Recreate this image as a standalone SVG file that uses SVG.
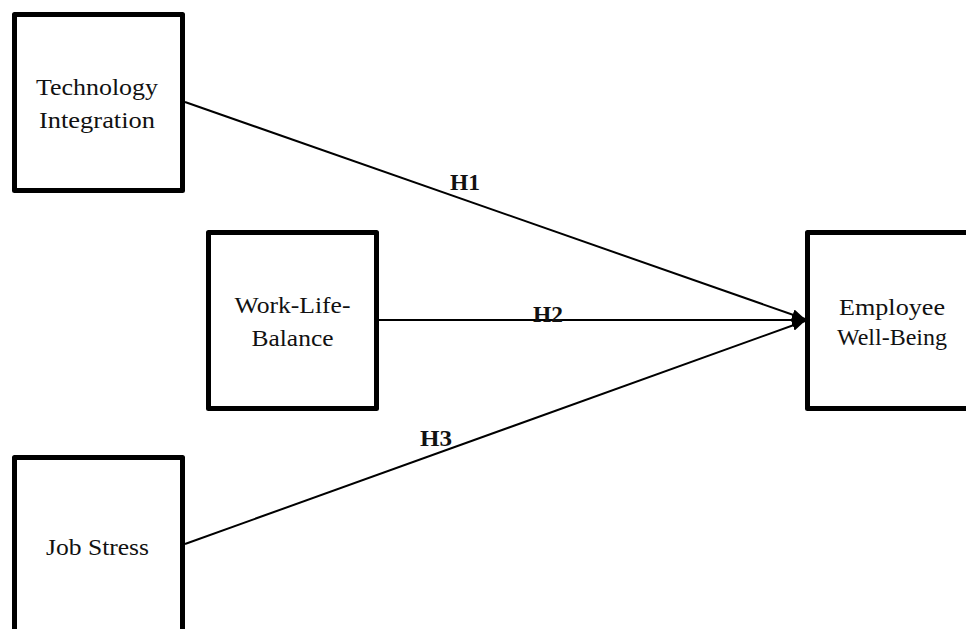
<svg xmlns="http://www.w3.org/2000/svg" width="966" height="629" viewBox="0 0 966 629">
<defs>
<style>
.box{fill:#fff;stroke:#000;stroke-width:5;stroke-linejoin:round}
.lbl{font-family:"Liberation Serif","Times New Roman",serif;font-size:24px;fill:#111;text-anchor:middle}
.h{font-family:"Liberation Serif","Times New Roman",serif;font-size:23px;font-weight:bold;fill:#111;text-anchor:middle}
.conn{stroke:#000;stroke-width:2;fill:none}
</style>
<marker id="arr" viewBox="0 0 13 11" refX="13" refY="5.5" markerWidth="13" markerHeight="11" markerUnits="userSpaceOnUse" orient="auto">
<path d="M0,0 L13,5.5 L0,11 z" fill="#000"/>
</marker>
</defs>
<rect width="966" height="629" fill="#fff"/>
<g id="connectors">
<line class="conn" x1="185" y1="102" x2="805" y2="319" marker-end="url(#arr)"/>
<line class="conn" x1="379" y1="320" x2="805" y2="320" marker-end="url(#arr)"/>
<line class="conn" x1="185" y1="544" x2="805" y2="321" marker-end="url(#arr)"/>
<text class="h" x="465" y="190" textLength="30" lengthAdjust="spacingAndGlyphs">H1</text>
<text class="h" x="548" y="322" textLength="30" lengthAdjust="spacingAndGlyphs">H2</text>
<text class="h" x="436" y="446" textLength="32" lengthAdjust="spacingAndGlyphs">H3</text>
</g>
<g id="technology-integration">
<rect class="box" x="14.5" y="14.5" width="168" height="176"/>
<text class="lbl" x="97" y="95" textLength="122" lengthAdjust="spacingAndGlyphs">Technology</text>
<text class="lbl" x="97" y="128" textLength="116" lengthAdjust="spacingAndGlyphs">Integration</text>
</g>
<g id="work-life-balance">
<rect class="box" x="208.5" y="232.5" width="168" height="176"/>
<text class="lbl" x="292.5" y="313" textLength="116" lengthAdjust="spacingAndGlyphs">Work-Life-</text>
<text class="lbl" x="292.5" y="346" textLength="82" lengthAdjust="spacingAndGlyphs">Balance</text>
</g>
<g id="job-stress">
<rect class="box" x="14.5" y="457.5" width="168" height="176"/>
<text class="lbl" x="97.5" y="555" textLength="103" lengthAdjust="spacingAndGlyphs">Job Stress</text>
</g>
<g id="employee-well-being">
<rect class="box" x="807.5" y="232.5" width="168" height="176"/>
<text class="lbl" x="892" y="315" textLength="106" lengthAdjust="spacingAndGlyphs">Employee</text>
<text class="lbl" x="892" y="345" textLength="110" lengthAdjust="spacingAndGlyphs">Well-Being</text>
</g>
</svg>
